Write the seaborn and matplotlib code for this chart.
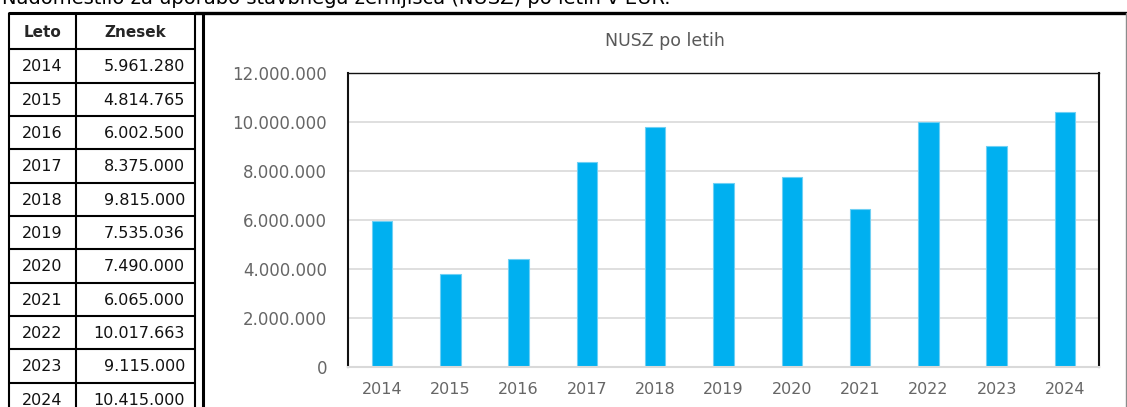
"""
NUSZ po letih – table of amounts on the left, bar chart on the right.
"""

import matplotlib
matplotlib.use("Agg")
import matplotlib.pyplot as plt
import matplotlib.ticker as mticker
import pandas as pd
import seaborn as sns

# ── data ─────────────────────────────────────────────────────────────────────
years = ["2014", "2015", "2016", "2017", "2018", "2019",
         "2020", "2021", "2022", "2023", "2024"]

# amounts as printed in the table
table_amounts = ["5.961.280", "4.814.765", "6.002.500", "8.375.000",
                 "9.815.000", "7.535.036", "7.490.000", "6.065.000",
                 "10.017.663", "9.115.000", "10.415.000"]

# bar heights
bar_values = [5961280, 3780000, 4400000, 8350000, 9800000, 7520000,
              7750000, 6450000, 10000000, 9000000, 10400000]

y_ticks = [0, 2000000, 4000000, 6000000, 8000000, 10000000, 12000000]

heading = "Nadomestilo za uporabo stavbnega zemljišča (NUSZ) po letih v EUR."
chart_title = "NUSZ po letih"
col_headers = ["Leto", "Znesek"]

df = pd.DataFrame({"Leto": years, "Znesek": bar_values})

# ── style ────────────────────────────────────────────────────────────────────
sns.set_theme(style="white")
plt.rcParams["font.family"] = ["DejaVu Sans"]

W, H = 1127, 407
fig = plt.figure(figsize=(W / 100, H / 100), dpi=100)

# background axes in pixel coordinates for the table + frames
bg = fig.add_axes([0, 0, 1, 1])
bg.set_xlim(0, W)
bg.set_ylim(H, 0)
bg.axis("off")

# heading (cut off at the top edge, as in the source screenshot)
bg.text(2, 4.5, heading, fontsize=14, color="black", ha="left", va="baseline")

# ── table ────────────────────────────────────────────────────────────────────
t_left, t_mid, t_right = 9, 76, 195
t_top, head_bot, row_h = 13, 49.3, 33.33
lw_tab = 1.5

for x in (t_left, t_mid, t_right):
    bg.plot([x, x], [t_top, H], color="black", lw=lw_tab, solid_capstyle="butt")
bg.plot([t_left, t_right], [t_top, t_top], color="black", lw=2.2)
for i in range(len(years) + 1):
    y = head_bot + i * row_h
    if y < H:
        bg.plot([t_left, t_right], [y, y], color="black", lw=lw_tab)

bg.text((t_left + t_mid) / 2, (t_top + head_bot) / 2 + 1, col_headers[0],
        fontsize=11, fontweight="bold", ha="center", va="center")
bg.text(135, (t_top + head_bot) / 2 + 1, col_headers[1],
        fontsize=11, fontweight="bold", ha="center", va="center")
for i, (yr, amt) in enumerate(zip(years, table_amounts)):
    yc = head_bot + (i + 0.5) * row_h + 1
    bg.text((t_left + t_mid) / 2, yc, yr, fontsize=11.5,
            ha="center", va="center", color="#111111")
    bg.text(185, yc, amt, fontsize=11.5, ha="right", va="center",
            color="#111111")

# ── chart frame ──────────────────────────────────────────────────────────────
bg.plot([203, 203], [t_top, H], color="black", lw=2.2, solid_capstyle="butt")
bg.plot([195, W], [t_top, t_top], color="black", lw=2.4)
bg.plot([1126, 1126], [t_top, H], color="#8c8c8c", lw=1)

bg.text(665, 41, chart_title, fontsize=12.5, color="#595959",
        ha="center", va="center")

# ── bar chart ────────────────────────────────────────────────────────────────
p_left, p_right, p_top, p_bot = 348, 1099, 73, 367
ax = fig.add_axes([p_left / W, 1 - p_bot / H,
                   (p_right - p_left) / W, (p_bot - p_top) / H])

sns.barplot(data=df, x="Leto", y="Znesek", color="#00B0F0", saturation=1,
            width=0.3, edgecolor="#6fd0f4", linewidth=0.8, ax=ax)

ax.set_ylim(0, 12000000)
ax.set_xlim(-0.5, len(years) - 0.5)
ax.set_yticks(y_ticks)
ax.yaxis.set_major_formatter(
    mticker.FuncFormatter(lambda v, _: f"{int(v):,}".replace(",", ".")))
ax.grid(axis="y", color="#d9d9d9", lw=1.2)
ax.set_axisbelow(True)
ax.set_xlabel("")
ax.set_ylabel("")

ax.tick_params(axis="y", length=0, pad=15, labelsize=12, labelcolor="#666666")
ax.tick_params(axis="x", length=0, pad=11, labelsize=11.5, labelcolor="#666666")

ax.spines["left"].set_color("#111111")
ax.spines["left"].set_linewidth(1.5)
ax.spines["right"].set_color("#111111")
ax.spines["right"].set_linewidth(1.5)
ax.spines["top"].set_color("#111111")
ax.spines["top"].set_linewidth(1.0)
ax.spines["bottom"].set_color("#d9d9d9")
ax.spines["bottom"].set_linewidth(1.5)

fig.savefig("out.png", dpi=100)
